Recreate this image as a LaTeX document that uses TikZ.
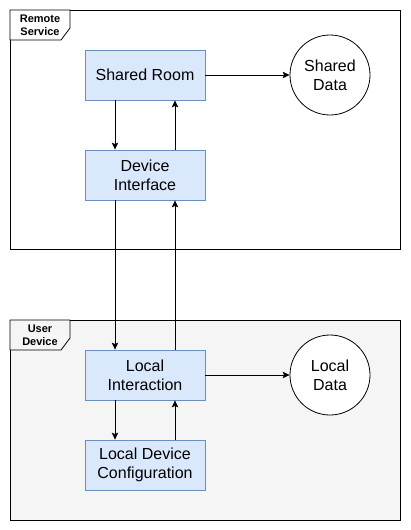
\documentclass[tikz,border=0pt]{standalone}
\usepackage{fontspec}
\setmainfont{Liberation Sans}
\usetikzlibrary{arrows.meta}
\definecolor{boxfill}{HTML}{DAE8FC}
\definecolor{boxline}{HTML}{6C8EBF}
\definecolor{devfill}{HTML}{F5F5F5}

\begin{document}
\begin{tikzpicture}[
        x=1pt,
        y=-1pt,
        frame/.style={draw=black,line width=0.8pt},
        frame tag/.style={draw=black,line width=0.8pt},
        tag text/.style={font=\fontsize{11}{13}\selectfont\bfseries,align=center},
        block/.style={draw=boxline,fill=boxfill,line width=0.8pt,
            minimum width=120pt,minimum height=50pt,align=center,
            font=\fontsize{16}{19}\selectfont,inner sep=0pt},
        store/.style={draw=black,fill=white,circle,line width=0.8pt,
            minimum size=80pt,align=center,inner sep=0pt,
            font=\fontsize{16}{19}\selectfont},
        flow/.style={line width=0.8pt,-{Stealth[length=7pt,width=6.5pt,inset=1.5pt]}}
    ]
        \useasboundingbox (0,0) rectangle (410,530);

        % The remote service frame.
        \draw[frame,fill=white] (10,10) rectangle (400,249);
        \draw[frame tag,fill=white]
            (10,10) -- (70,10) -- (70,28) -- (61,40) -- (10,40) -- cycle;
        \node[tag text] (remotetag) at (40,25) {Remote\\Service};

        % The user device frame.
        \draw[frame,fill=devfill] (10,320) rectangle (400,520);
        \draw[frame tag,fill=devfill]
            (10,320) -- (70,320) -- (70,338) -- (61,350) -- (10,350) -- cycle;
        \node[tag text] (devicetag) at (40,335) {User\\Device};

        % The blocks and the data stores.
        \node[block] (room) at (145,75) {Shared Room};
        \node[block] (iface) at (145,175) {Device\\Interface};
        \node[block] (interact) at (145,375) {Local\\Interaction};
        \node[block] (config) at (145,465) {Local Device\\Configuration};
        \node[store] (shared) at (330,75) {Shared\\Data};
        \node[store] (local) at (330,375) {Local\\Data};

        % Down the left side, up the right side.
        \draw[flow] ([xshift=-30pt]room.south) -- ([xshift=-30pt]iface.north);
        \draw[flow] ([xshift=30pt]iface.north) -- ([xshift=30pt]room.south);
        \draw[flow] ([xshift=-30pt]iface.south) -- ([xshift=-30pt]interact.north);
        \draw[flow] ([xshift=30pt]interact.north) -- ([xshift=30pt]iface.south);
        \draw[flow] ([xshift=-30pt]interact.south) -- ([xshift=-30pt]config.north);
        \draw[flow] ([xshift=30pt]config.north) -- ([xshift=30pt]interact.south);

        % Into the data stores.
        \draw[flow] (room.east) -- (shared.west);
        \draw[flow] (interact.east) -- (local.west);
    \end{tikzpicture}
\end{document}
